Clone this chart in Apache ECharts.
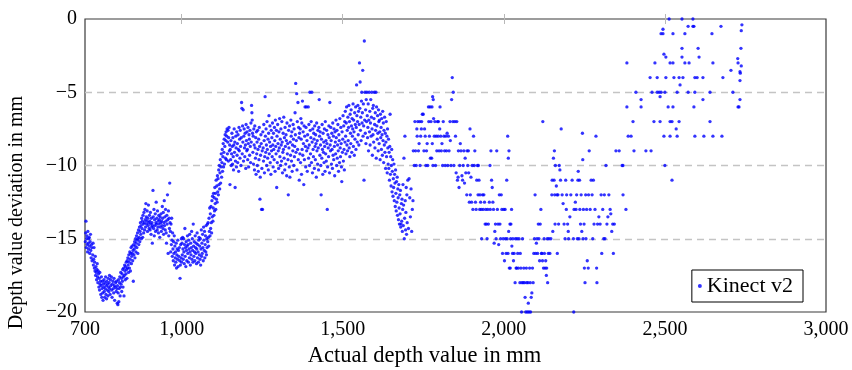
<!DOCTYPE html>
<html>
<head>
<meta charset="utf-8">
<script src="https://cdn.jsdelivr.net/npm/echarts@6/dist/echarts.min.js"></script>
<style>html,body{margin:0;padding:0;background:#fff}#c{width:852px;height:370px}</style>
</head>
<body>
<div id="c"></div>
<script>
const seriesName = 'Kinect v2';
const xTickValues = [700, 1000, 1500, 2000, 2500, 3000];
const yTickValues = [-20, -15, -10, -5, 0];
const xTitle = 'Actual depth value in mm';
const yTitle = 'Depth value deviation in mm';

const seg700 = [[701,-15.2],[702,-14.6],[703,-13.8],[704,-15.6],[705,-15.0],[706,-14.8],[707,-15.4],[708,-15.9],[709,-14.5],[710,-15.3],[711,-15.7],[712,-15.0],[713,-14.9],[714,-15.5],[715,-16.0],[716,-15.2],[717,-14.7],[718,-15.8],[719,-16.3],[720,-15.4],[721,-15.6],[722,-16.5],[724,-16.1],[725,-15.3],[726,-16.8],[727,-16.4],[728,-15.6],[729,-17.0],[730,-16.6],
[731,-17.2],[732,-16.2],[733,-17.5],[734,-16.9],[735,-17.3],[736,-17.8],[737,-17.1],[738,-16.7],[739,-17.6],[740,-18.0],[741,-17.2],[742,-17.4],[743,-18.3],[744,-17.7],[745,-18.5],[746,-17.3],[747,-18.1],[748,-17.9],[749,-18.8],[750,-18.2],[751,-17.6],[752,-19.0],[753,-18.4],[754,-17.9],[755,-18.7],[756,-19.2],[757,-18.1],[758,-18.3],[759,-17.8],[760,-18.6],
[761,-19.0],[762,-18.0],[763,-18.4],[764,-17.6],[765,-18.8],[766,-18.2],[767,-19.1],[768,-17.9],[769,-18.5],[770,-18.1],[771,-18.9],[772,-17.7],[773,-18.3],[774,-18.6],[775,-18.0],[776,-17.5],[777,-18.4],[778,-18.8],[779,-17.8],[780,-18.2],[782,-17.6],[783,-18.5],[784,-19.0],[785,-18.1],[787,-17.9],[788,-18.4],[789,-18.7],[790,-17.7],[791,-18.2],[792,-19.2],[794,-18.3],[795,-18.0],[797,-18.6],[798,-17.9],[799,-18.4],[800,-19.4],
[801,-18.2],[802,-19.5],[803,-18.7],[804,-17.8],[805,-19.3],[806,-18.4],[807,-18.0],[808,-17.6],[809,-18.9],[810,-18.3],[811,-17.3],[812,-18.1],[813,-17.7],[814,-18.6],[815,-17.4],[816,-17.9],[817,-17.1],[818,-18.3],[819,-17.6],[820,-17.0],[821,-18.9],[822,-17.5],[823,-16.8],[824,-17.2],[825,-17.8],[826,-16.9],[827,-17.4],[828,-16.6],[829,-17.1],[830,-17.7],
[831,-16.5],[832,-17.0],[833,-16.3],[834,-16.8],[835,-17.3],[836,-16.1],[837,-16.6],[838,-17.0],[839,-15.9],[840,-16.4],[841,-17.2],[842,-16.0],[843,-15.6],[844,-16.7],[845,-16.2],[846,-15.5],[847,-16.0],[848,-16.5],[849,-15.8],[850,-17.9],[851,-15.4],[852,-16.1],[853,-15.7],[854,-15.2],[855,-16.3],[856,-15.5],[857,-15.0],[858,-15.9],[859,-15.3],[860,-14.8],[861,-15.6],[862,-15.1],[863,-14.6],[864,-16.0],[865,-15.0],[866,-14.4],[867,-15.4],[868,-14.9],[869,-14.2],[870,-15.2],
[871,-14.5],[872,-13.9],[873,-14.7],[874,-14.1],[875,-15.0],[876,-13.6],[877,-14.3],[878,-13.8],[879,-14.9],[880,-13.4],[881,-14.0],[882,-14.6],[883,-13.2],[884,-13.9],[885,-14.4],[886,-13.0],[887,-13.7],[888,-14.2],[889,-12.6],[890,-13.5],[891,-14.0],[892,-13.8],[893,-13.1],[894,-14.5],[895,-13.6],[896,-14.1],[897,-12.7],[898,-13.9],[899,-14.3],[900,-13.4],
[901,-13.8],[902,-14.4],[903,-13.2],[904,-14.0],[905,-14.7],[906,-13.6],[907,-14.2],[908,-13.9],[909,-15.3],[910,-14.1],[911,-11.7],[912,-13.5],[913,-14.3],[914,-13.0],[915,-14.8],[916,-13.7],[917,-14.1],[918,-13.3],[919,-14.5],[920,-13.9],[921,-12.5],[922,-14.0],[923,-13.6],[924,-14.4],[925,-13.1],[926,-14.2],[927,-13.8],[928,-14.6],[929,-13.4],[930,-14.0],[931,-13.7],[932,-14.9],[933,-13.5],[934,-14.2],[935,-13.9],[936,-13.3],[937,-14.5],[938,-13.8],[939,-14.1],[940,-12.8],[941,-13.6],[942,-14.3],[943,-13.2],[944,-14.7],[945,-13.9],[946,-12.4],[947,-14.1],[948,-13.5],[949,-14.4],[950,-13.0],[951,-13.8],[952,-14.6],[953,-15.3],[954,-13.4],[955,-14.0],[956,-12.0],[957,-13.7],[958,-16.0],[959,-13.1],[960,-14.8],[961,-13.6],[962,-14.3],[963,-11.2],[964,-13.9],[965,-14.5],[966,-15.9],
[967,-14.0],[968,-15.4],[969,-13.6],[970,-15.1],[971,-16.2],[972,-14.6],[973,-15.7],[974,-16.5],[975,-15.2],[976,-16.0],[977,-14.8],[978,-16.8],[979,-15.5],[980,-16.3],[981,-15.9],[982,-16.6],[983,-15.3],[984,-17.0],[985,-16.1],[986,-15.7],[987,-16.4],[988,-15.1],[989,-16.9],[990,-15.8],[991,-16.2],[993,-15.6],[994,-16.5],[995,-17.7],[996,-16.8],[997,-15.4],[998,-16.3],[999,-15.0],[1000,-16.6]];

const seg1000 = [[1001,-15.3],[1002,-16.1],[1003,-14.9],[1004,-15.7],[1005,-16.4],[1006,-15.0],[1007,-15.9],[1008,-16.7],[1009,-15.4],[1010,-14.3],[1011,-16.2],[1012,-15.6],[1013,-16.9],[1014,-15.2],[1015,-15.8],[1016,-16.5],[1017,-15.5],[1018,-14.8],[1019,-16.0],[1020,-15.4],[1021,-16.6],[1022,-15.1],[1023,-15.7],[1024,-16.3],[1025,-14.7],[1026,-15.9],[1027,-16.8],[1028,-15.3],[1029,-16.1],[1030,-15.6],[1031,-14.5],[1032,-16.4],[1033,-15.0],[1034,-15.8],[1035,-16.6],[1036,-14.0],[1037,-15.5],[1038,-16.2],[1039,-15.2],[1040,-15.9],[1041,-16.5],[1042,-14.8],[1043,-15.6],[1044,-16.0],[1045,-15.3],[1046,-16.7],[1047,-15.7],[1048,-14.6],[1049,-16.3],[1050,-15.4],[1051,-15.9],[1052,-16.6],[1053,-15.1],[1054,-14.9],[1055,-16.1],[1056,-15.5],[1057,-16.4],[1058,-15.0],[1059,-16.8],[1060,-15.7],[1061,-14.4],[1062,-16.2],[1063,-15.3],[1064,-16.0],[1065,-14.7],[1066,-15.6],[1067,-16.5],[1068,-14.2],[1069,-15.1],[1070,-15.8],[1071,-14.5],[1072,-16.3],[1073,-15.4],[1074,-14.8],[1075,-15.9],[1076,-14.1],[1077,-16.1],[1078,-15.0],
[1079,-15.6],[1080,-14.0],[1081,-15.2],[1082,-13.9],[1083,-14.9],[1084,-15.5],[1085,-13.6],[1086,-14.5],[1087,-12.9],[1088,-14.8],[1089,-13.3],[1090,-14.3],[1091,-12.8],[1092,-13.9],[1093,-14.6],[1094,-12.4],[1095,-13.5],[1096,-12.1],[1097,-13.8],[1098,-12.9],[1099,-11.9],[1100,-13.4],[1101,-12.2],[1102,-13.1],[1103,-11.5],[1104,-12.6],[1105,-11.9],[1106,-13.0],[1107,-11.0],[1108,-12.3],[1109,-11.4],[1110,-12.5],[1111,-10.7],[1112,-11.8],[1113,-10.9],[1114,-12.0],[1115,-10.3],[1116,-11.3],[1117,-10.0],[1118,-11.6],[1119,-10.5],[1120,-9.6],[1121,-11.2],[1122,-10.1],[1123,-9.2],[1124,-10.8],[1125,-9.8],[1126,-8.9],[1127,-10.4],[1128,-9.4],[1129,-8.5],[1130,-10.1],[1131,-9.1],[1132,-8.2],[1133,-9.9],[1134,-8.7],[1135,-7.9],[1136,-9.5],[1137,-8.3],[1138,-7.7],[1139,-9.6],[1140,-8.0],[1141,-7.5],[1142,-9.2],[1143,-8.4],[1144,-7.6],[1145,-9.7],[1146,-8.1],[1147,-7.4],[1148,-9.0],[1149,-8.6],[1150,-11.3]];

const seg1150 = [[1151,-8.9],[1152,-9.6],[1153,-8.3],[1154,-10.0],[1155,-9.2],[1156,-7.8],[1157,-8.7],[1158,-9.9],[1159,-8.1],[1160,-9.4],[1161,-10.3],[1162,-8.6],[1163,-7.5],[1164,-9.1],[1165,-8.4],[1166,-11.5],[1167,-9.7],[1168,-8.0],[1169,-8.8],[1170,-10.1],[1171,-7.7],[1172,-9.3],[1173,-8.5],[1174,-9.8],[1175,-7.9],[1176,-8.9],[1177,-10.4],[1178,-7.4],[1179,-9.0],[1180,-8.2],[1181,-9.5],[1182,-7.6],[1183,-8.7],[1184,-10.0],[1185,-8.1],[1186,-5.7],[1187,-6.1],[1188,-9.2],[1189,-7.3],[1190,-8.4],[1191,-6.2],[1192,-9.7],[1193,-8.0],[1194,-7.5],[1195,-8.8],[1196,-9.4],[1197,-7.8],[1198,-8.6],[1199,-10.2],[1200,-7.2],[1201,-8.3],[1202,-9.0],[1203,-7.7],[1204,-8.9],[1205,-9.6],[1206,-7.4],[1207,-8.5],[1208,-10.1],[1209,-7.9],[1210,-8.2],[1211,-9.3],[1212,-7.6],[1213,-8.7],[1214,-9.8],[1215,-7.1],[1216,-8.4],[1217,-5.9],[1218,-6.4],[1219,-6.9],[1220,-7.8],[1221,-9.1],[1222,-8.0],[1223,-9.9],[1224,-7.5],[1225,-8.6],[1226,-10.3],[1227,-7.3],[1228,-8.8],[1229,-9.5],[1230,-8.1],[1231,-10.6],[1232,-7.7],[1233,-9.2],
[1234,-8.4],[1235,-10.0],[1236,-7.6],[1237,-8.9],[1238,-10.4],[1239,-8.2],[1240,-9.6],[1241,-7.4],[1242,-8.7],[1243,-12.3],[1244,-10.8],[1245,-9.3],[1246,-7.9],[1247,-8.5],[1248,-13.0],[1249,-10.2],[1250,-9.0],[1251,-13.0],[1252,-7.7],[1253,-8.8],[1254,-9.7],[1255,-7.2],[1256,-8.3],[1257,-10.5],[1258,-9.4],[1259,-5.3],[1260,-8.0],[1261,-9.1],[1262,-7.5],[1263,-8.6],[1264,-10.0],[1265,-7.0],[1266,-8.9],[1267,-9.5],[1268,-8.2],[1269,-10.3],[1270,-7.8],[1271,-6.6],[1272,-9.2],[1273,-8.4],[1274,-7.3],[1275,-9.8],[1276,-8.7],[1277,-10.6],[1278,-7.6],[1279,-9.0],[1280,-8.1],
[1281,-9.4],[1282,-7.1],[1283,-8.6],[1284,-10.1],[1285,-7.8],[1286,-8.9],[1287,-9.6],[1288,-7.4],[1289,-8.3],[1290,-10.4],[1291,-6.9],[1292,-8.7],[1293,-9.2],[1294,-7.6],[1295,-11.5],[1296,-8.0],[1297,-9.8],[1298,-7.2],[1299,-8.5],[1300,-9.0],[1301,-10.2],[1302,-7.7],[1303,-8.8],[1304,-6.8],[1305,-9.4],[1306,-8.2],[1307,-10.0],[1308,-7.5],[1309,-8.6],[1310,-9.7],[1311,-7.0],[1312,-8.4],[1313,-10.5],[1314,-9.1],[1315,-7.8],[1316,-8.9],[1317,-6.7],[1318,-9.5],[1319,-8.1],[1320,-10.3],[1321,-7.4],[1322,-8.7],[1323,-9.9],[1324,-7.9],[1325,-8.3],[1326,-10.7],[1327,-7.1],[1328,-9.2],[1329,-8.5],[1330,-9.6],[1331,-12.0],[1332,-7.6],[1333,-8.8],[1334,-10.1],[1335,-7.3],[1336,-10.8],[1337,-8.4],[1338,-9.3],[1339,-6.9],[1340,-8.0],[1341,-9.7],[1342,-7.7],[1343,-10.4],[1344,-8.6],[1345,-9.0],[1346,-7.2],[1347,-8.2],[1348,-10.0],[1349,-7.5],[1350,-9.4],[1351,-8.7],[1352,-6.4],[1353,-7.9],[1354,-4.4],[1355,-9.1],[1356,-8.3],[1357,-5.1],[1358,-10.3],[1359,-7.0],[1360,-8.9],[1361,-5.7],[1362,-9.6],[1363,-7.4],[1364,-8.1],[1365,-11.0],[1366,-7.8],[1367,-9.2]];

const seg1370 = [[1368,-7.5],[1369,-9.8],[1370,-6.8],[1371,-8.2],[1372,-10.6],[1373,-7.1],[1374,-8.9],[1375,-5.6],[1376,-9.3],[1377,-7.7],[1378,-8.5],[1379,-11.3],[1380,-7.3],[1381,-9.6],[1382,-8.0],[1383,-6.0],[1384,-8.7],[1385,-10.1],[1386,-7.4],[1387,-6.0],[1388,-9.0],[1389,-8.3],[1390,-10.4],[1391,-7.9],[1392,-8.8],[1393,-6.0],[1394,-9.5],[1395,-7.2],[1396,-8.6],[1397,-10.0],[1398,-5.0],[1399,-7.6],[1400,-9.2],[1401,-8.1],[1402,-7.0],[1403,-9.8],[1404,-5.0],[1405,-8.4],[1406,-10.5],[1407,-7.5],[1408,-8.9],[1409,-9.4],[1410,-7.8],[1411,-8.2],[1412,-10.2],[1413,-7.3],[1414,-8.7],[1415,-9.6],[1416,-7.9],[1417,-8.5],[1418,-10.8],[1419,-7.1],[1420,-9.0],[1421,-8.3],[1422,-9.9],[1423,-7.6],[1424,-8.8],[1425,-10.3],[1426,-7.4],[1427,-5.5],[1428,-8.0],[1429,-9.3],[1430,-7.7],[1431,-8.6],[1432,-10.0],[1433,-12.0],[1434,-8.2],[1435,-9.5],[1436,-7.2],[1437,-8.9],[1438,-10.6],[1439,-7.8],[1440,-9.1],[1441,-8.4],[1442,-9.8],[1443,-7.5],[1444,-8.7],[1445,-10.4],[1446,-7.0],[1447,-9.2],[1448,-8.3],[1449,-9.7],[1450,-7.6],[1451,-8.5],[1452,-13.0],[1453,-10.1],[1454,-7.9],[1455,-8.8],[1456,-9.4],[1457,-7.3],[1458,-8.1],[1459,-10.5],[1460,-5.7],[1461,-8.6],[1462,-9.0],[1463,-7.4],[1464,-8.3],[1465,-9.9],[1466,-7.8],[1467,-8.9],[1468,-10.2],[1469,-7.1],[1470,-9.3],[1471,-8.0],[1472,-9.6],[1473,-7.5],[1474,-8.7],[1475,-10.7],[1476,-7.7],[1477,-8.4],[1478,-9.2],[1479,-6.9],[1480,-8.1],[1481,-10.0],[1482,-7.6],[1483,-9.5],[1484,-8.6],[1485,-7.2],[1486,-9.0],[1487,-10.4],[1488,-7.9],[1489,-8.3],[1490,-9.8],[1491,-6.8],[1492,-8.8],[1493,-9.4],[1494,-7.4],[1495,-8.5],[1496,-10.1],[1497,-11.1],[1498,-7.7],[1499,-9.1],[1500,-8.2],[1501,-6.6],[1502,-9.7],[1503,-7.3],[1504,-8.9],[1505,-10.3],[1506,-7.0],[1507,-8.4],
[1508,-6.3],[1509,-8.0],[1510,-9.2],[1511,-7.1],[1512,-6.0],[1513,-8.6],[1514,-7.6],[1515,-9.0],[1516,-6.7],[1517,-8.3],[1518,-7.4],[1519,-5.9],[1520,-8.8],[1521,-7.0],[1522,-9.4],[1523,-6.5],[1524,-7.8],[1525,-8.5],[1526,-6.2],[1527,-7.3],[1528,-9.1],[1529,-6.8],[1530,-8.0],[1531,-7.5],[1532,-5.8],[1533,-8.7],[1534,-6.9],[1535,-7.7],[1536,-9.3],[1537,-6.4],[1538,-8.2],[1539,-7.2],[1540,-6.0],[1541,-8.9],[1542,-7.4],[1543,-4.5],[1544,-6.6],[1545,-8.4],[1546,-7.0],[1547,-5.9],[1548,-7.9],[1549,-6.3],[1550,-8.6],[1551,-7.2],[1552,-3.0],[1553,-6.1],[1554,-4.3],[1555,-7.6],[1556,-6.7],[1557,-8.3],[1558,-5.6],[1559,-5.0],[1560,-7.1],[1561,-6.4],[1562,-3.5],[1563,-8.0],[1564,-5.8],[1565,-7.3],[1566,-11.0],[1567,-1.5],[1568,-6.9],[1569,-5.0],[1570,-7.8],[1571,-6.2],[1572,-8.5],[1573,-5.5],[1574,-7.0],
[1575,-5.0],[1576,-6.6],[1577,-8.1],[1578,-7.4],[1579,-5.8],[1580,-9.0],[1581,-6.9],[1582,-5.0],[1583,-7.7],[1584,-6.3],[1585,-8.6],[1586,-7.1],[1587,-5.5],[1588,-8.0],[1589,-6.7],[1590,-5.0],[1591,-7.5],[1592,-9.3],[1593,-6.1],[1594,-7.9],[1595,-5.9],[1596,-8.4],[1597,-6.8],[1598,-5.0],[1599,-7.2],[1600,-8.8],[1601,-6.4],[1602,-7.6],[1603,-5.0],[1604,-9.5],[1605,-6.0],[1606,-7.3],[1607,-8.2],[1608,-6.6],[1609,-7.8],[1610,-9.0],[1611,-6.2],[1612,-7.0],[1613,-8.5],[1614,-6.9],[1615,-7.7],[1616,-9.6],[1617,-6.5],[1618,-8.1],[1619,-7.4],[1620,-8.9],[1621,-6.8],[1622,-7.9],[1623,-9.3],[1624,-6.3],[1625,-8.3],[1626,-7.1],[1627,-9.8],[1628,-7.6],[1629,-8.6],[1630,-6.7],[1631,-9.1],[1632,-7.8],[1633,-10.2],[1634,-8.4],[1635,-7.0],[1636,-9.4],[1637,-8.0],[1638,-10.5],[1639,-7.5],[1640,-8.8],[1641,-9.9],[1642,-8.2],
[1643,-10.2],[1644,-9.1],[1645,-11.0],[1646,-8.7],[1647,-6.5],[1648,-10.6],[1649,-9.4],[1650,-11.4],[1651,-10.0],[1652,-8.9],[1653,-11.8],[1654,-10.4],[1655,-9.6],[1656,-12.1],[1657,-10.9],[1658,-11.5],[1659,-9.9],[1660,-12.4],[1661,-10.6],[1662,-11.2],[1663,-12.8],[1664,-10.3],[1665,-11.9],[1666,-13.1],[1667,-11.1],[1668,-12.5],[1669,-10.8],[1670,-13.4],[1671,-11.6],[1672,-12.2],[1673,-13.7],[1674,-11.3],[1675,-12.9],[1676,-14.0],[1677,-12.0],[1678,-13.3],[1679,-11.7],[1680,-14.2],[1681,-14.0],[1682,-12.6],[1683,-13.8],[1684,-12.3],[1685,-14.5],[1686,-13.0],[1687,-11.3],[1688,-14.1],[1689,-12.7],[1690,-9.5],[1691,-15.0],[1692,-13.6],[1693,-8.0],[1694,-12.4],[1695,-14.4],[1696,-13.2],[1697,-11.5],[1698,-14.7],[1699,-12.0],[1700,-13.9],[1702,-11.0],[1704,-14.3],[1706,-10.9],[1708,-12.2],[1710,-13.5],[1712,-11.6],[1714,-14.5],[1716,-13.0],[1718,-12.4]];

const seg1720 = [[1719,-9.0],[1722,-10.0],[1724,-7.0],[1726,-9.0],[1728,-10.0],[1730,-7.5],[1731,-8.0],[1733,-7.0],[1735,-9.0],[1737,-8.5],[1739,-7.0],[1740,-10.0],[1742,-8.0],[1744,-7.5],[1745,-7.0],[1747,-6.5],[1750,-6.5],[1752,-9.0],[1754,-7.5],[1756,-8.0],[1758,-10.0],[1760,-9.0],[1762,-8.5],[1764,-10.0],[1766,-6.0],[1767,-7.0],[1769,-8.0],[1771,-6.0],[1772,-9.5],[1774,-7.0],[1776,-9.5],[1777,-6.0],[1778,-8.5],[1779,-5.3],[1780,-10.0],[1781,-5.5],[1782,-6.8],[1784,-8.0],[1786,-7.0],[1788,-10.0],[1790,-8.0],[1792,-9.0],[1794,-7.0],[1796,-8.0],[1797,-7.0],[1799,-9.0],[1801,-7.5],[1802,-6.0],[1804,-8.0],[1806,-9.0],[1808,-8.5],[1810,-10.0],[1812,-7.0],[1814,-8.0],[1816,-9.0],[1818,-10.0],[1820,-8.0],[1822,-9.0],[1824,-7.8],[1826,-10.0],[1828,-8.0],[1830,-9.0],[1833,-7.0],[1834,-8.3],[1836,-10.0],[1838,-5.5],[1840,-4.0],[1842,-7.0],[1843,-5.0],[1845,-10.0],[1848,-7.0],[1850,-8.0],[1852,-10.5],[1854,-7.0],[1856,-11.0],[1858,-10.8],[1859,-9.0],[1861,-11.5],[1863,-10.0],[1865,-8.5],[1867,-9.0],[1870,-10.7],[1872,-11.0],[1874,-10.0],[1876,-9.0],[1878,-11.2],[1880,-9.5],[1882,-10.5],[1885,-12.0],[1886,-9.0],[1888,-10.0],[1890,-9.0],[1891,-10.5],[1893,-12.5],[1895,-7.5],[1896,-12.0],[1898,-10.8],[1900,-12.5],[1902,-10.0],[1904,-13.0],[1906,-8.0],[1908,-10.0],[1910,-9.0],[1912,-12.5],[1914,-13.0],[1916,-11.0],[1918,-10.0],[1920,-12.0],[1921,-10.0],[1923,-11.0],[1925,-13.0],[1926,-12.0],[1928,-12.5],[1930,-13.0],[1931,-15.0],[1934,-12.0],[1936,-13.0],[1938,-12.0],[1940,-12.5],[1942,-14.0],[1944,-13.0],[1946,-14.0],[1948,-15.0],[1950,-13.0],[1952,-14.0],[1955,-12.5],[1957,-10.0],[1958,-13.0],[1960,-9.0],[1962,-11.0],[1964,-11.5],[1966,-12.5],[1968,-13.0],[1970,-15.3],[1972,-14.5],[1974,-14.0],[1976,-15.0],[1978,-9.0],[1980,-13.0],[1982,-14.0],[1984,-15.4],[1986,-12.0],[1988,-14.0],[1990,-15.0],[1992,-12.0],[1994,-13.0],[1996,-16.0],[1998,-15.0],[2000,-13.0]];

const seg2000 = [[2002,-16.5],[2004,-13.0],[2005,-15.0],[2007,-16.0],[2009,-11.0],[2010,-15.0],[2012,-8.0],[2013,-16.0],[2014,-9.5],[2015,-14.5],[2016,-9.0],[2017,-17.0],[2019,-14.0],[2020,-17.0],[2021,-15.0],[2022,-14.0],[2024,-13.0],[2025,-15.5],[2027,-16.0],[2028,-15.0],[2030,-16.5],[2032,-16.0],[2035,-18.0],[2036,-15.0],[2038,-17.0],[2040,-17.0],[2041,-15.0],[2043,-16.0],[2045,-17.0],[2047,-15.0],[2050,-18.0],[2051,-16.0],[2053,-17.0],[2055,-20.0],[2056,-18.0],[2058,-15.0],[2060,-18.0],[2062,-17.0],[2064,-18.0],[2066,-19.0],[2068,-20.0],[2070,-17.0],[2071,-18.0],[2073,-20.0],[2075,-18.0],[2076,-19.4],[2078,-20.0],[2080,-17.0],[2082,-18.0],[2083,-20.0],[2085,-19.0],[2087,-18.7],[2089,-17.0],[2091,-18.0],[2093,-16.0],[2095,-15.0],[2097,-12.0],[2099,-16.0],[2101,-15.3],[2103,-15.0],[2105,-16.0],[2107,-14.0],[2109,-15.0],[2111,-16.5],[2113,-14.0],[2115,-13.0],[2117,-16.0],[2118,-16.0],[2120,-16.5],[2121,-7.0],[2123,-17.0],[2125,-15.0],[2126,-16.0],[2128,-17.0],[2130,-16.5],[2132,-17.5],[2133,-17.0],[2135,-15.0],[2136,-18.0],[2138,-16.0],[2140,-15.0],[2143,-16.0],[2146,-15.0],[2149,-12.0],[2150,-11.0],[2152,-14.5],[2154,-9.5],[2156,-11.0],[2157,-9.0],[2158,-12.0],[2159,-14.0],[2160,-10.0],[2163,-11.4],[2165,-12.0],[2166,-16.0],[2168,-12.0],[2170,-14.0],[2172,-10.0],[2174,-10.3],[2176,-11.0],[2178,-7.5],[2181,-12.0],[2184,-12.6],[2187,-14.0],[2190,-15.0],[2192,-11.0],[2194,-13.0],[2195,-12.0],[2198,-14.0],[2200,-14.5],[2201,-15.0],[2205,-13.5],[2208,-12.0],[2212,-11.0],[2216,-15.0],[2217,-20.0],[2218,-13.0],[2222,-12.5],[2224,-13.0],[2226,-12.0],[2228,-15.0],[2230,-11.0],[2231,-10.4],[2233,-15.0],[2235,-11.0],[2236,-13.0],[2238,-14.0],[2240,-12.0],[2242,-14.5],[2244,-7.8],[2245,-9.6],[2246,-15.0],[2247,-13.0],[2249,-14.0],[2250,-17.0],[2252,-18.0],[2254,-12.0],[2255,-15.0],[2257,-13.0],[2259,-16.5],[2262,-17.0],[2263,-12.0],[2265,-9.0],[2268,-13.0],[2271,-11.0],[2274,-12.0],[2276,-15.0],[2278,-11.0],[2280,-14.0],[2283,-13.0],[2286,-8.0],[2288,-17.0],[2289,-18.0],[2291,-14.0],[2295,-13.5],[2299,-14.0],[2302,-12.0],[2304,-16.0],[2307,-13.0],[2310,-15.0],[2312,-12.0],[2314,-15.0],[2317,-10.0],[2320,-14.0],[2323,-13.5],[2326,-12.0],[2330,-13.0],[2332,-13.3],[2335,-14.5],[2338,-14.0],[2340,-16.0],[2343,-14.0]];

const seg2350 = [[2348,-9.0],[2358,-9.0],[2367,-10.0],[2370,-10.0],[2370,-12.0],[2379,-13.0],[2382,-3.0],[2382,-6.0],[2386,-8.0],[2395,-8.0],[2401,-7.0],[2404,-9.0],[2410,-5.0],[2426,-5.5],[2426,-6.0],[2441,-9.0],[2454,-4.0],[2457,-9.0],[2460,-5.0],[2466,-7.0],[2469,-3.0],[2476,-4.0],[2476,-5.0],[2482,-5.0],[2485,-5.3],[2485,-7.0],[2488,-1.0],[2488,-5.0],[2494,-0.7],[2494,-1.0],[2497,-2.4],[2497,-8.0],[2500,-5.0],[2500,-10.0],[2503,-2.6],[2503,-4.0],[2510,-6.0],[2513,0.0],[2516,-3.0],[2516,-7.0],[2516,-8.0],[2522,-7.0],[2522,-11.0],[2525,-1.0],[2525,-3.0],[2525,-6.0],[2528,-4.0],[2535,-7.5],[2538,-5.0],[2538,-8.0],[2544,-4.0],[2544,-7.0],[2547,-4.5],[2553,0.0],[2553,-2.0],[2553,-2.6],[2556,-4.0],[2562,-1.0],[2562,-3.0],[2572,-0.5],[2572,-5.0],[2575,-3.0],[2587,0.0],[2587,-0.5],[2590,-0.5],[2590,-6.0],[2593,-4.0],[2593,-5.0],[2593,-8.0],[2600,-4.0],[2603,-2.0],[2606,-2.6],[2618,-4.0],[2618,-5.5],[2621,-8.0],[2640,-5.0],[2640,-7.0],[2646,-1.0],[2649,-3.0],[2649,-8.0],[2674,-0.5],[2677,-8.0],[2680,-4.0],[2705,-3.5],[2711,-5.0],[2726,-2.7],[2727,-3.0],[2727,-6.0],[2730,-6.0],[2733,-3.6],[2733,-4.2],[2733,-5.5],[2734,-3.7],[2736,-2.0],[2737,-3.2],[2737,-0.8],[2739,-0.4]];

const data = [].concat(seg700, seg1000, seg1150, seg1370, seg1720, seg2000, seg2350);

const FONT = '"Liberation Serif", "DejaVu Serif", serif';
const fmtX = v => Number(v).toLocaleString('en-US');
const fmtY = v => (v < 0 ? '\u2212' + Math.abs(v) : String(v));
const innerX = xTickValues.slice(1, -1);

const chart = echarts.init(document.getElementById('c'), null, {renderer: 'canvas'});
chart.setOption({
  animation: false,
  backgroundColor: '#fff',
  grid: {left: 85, right: 26, top: 19, bottom: 58, outerBoundsMode: 'none', show: true, borderColor: '#3a3a3a', borderWidth: 1.2, backgroundColor: 'transparent'},
  xAxis: [{
    type: 'value', min: xTickValues[0], max: xTickValues[xTickValues.length - 1], position: 'bottom',
    axisLine: {show: false},
    axisTick: {show: true, inside: true, length: 5, customValues: innerX, lineStyle: {color: '#b8b8b8', width: 1}},
    axisLabel: {customValues: xTickValues, formatter: fmtX, margin: 8, color: '#000', fontSize: 20, fontFamily: FONT},
    splitLine: {show: false},
    name: xTitle, nameLocation: 'middle', nameGap: 32,
    nameTextStyle: {fontSize: 22.5, fontFamily: FONT, color: '#000', padding: [0, 62, 0, 0]}
  }, {
    type: 'value', min: xTickValues[0], max: xTickValues[xTickValues.length - 1], position: 'top',
    axisLine: {show: false},
    axisTick: {show: true, inside: true, length: 5, customValues: innerX, lineStyle: {color: '#b8b8b8', width: 1}},
    axisLabel: {show: false},
    splitLine: {show: false}
  }],
  yAxis: {
    type: 'value', min: yTickValues[0], max: yTickValues[yTickValues.length - 1], interval: 5,
    axisLine: {show: false}, axisTick: {show: false},
    axisLabel: {formatter: fmtY, margin: 8, color: '#000', fontSize: 20, fontFamily: FONT},
    splitLine: {show: true, showMinLine: false, showMaxLine: false, lineStyle: {color: '#c4c4c4', width: 1.3, type: [7, 5]}},
    name: yTitle, nameLocation: 'middle', nameGap: 58, nameRotate: 90,
    nameTextStyle: {fontSize: 20, fontFamily: FONT, color: '#000', padding: [0, 94, 0, 0]}
  },
  legend: {
    data: [seriesName], right: 49, top: 270, orient: 'horizontal',
    backgroundColor: '#fff', borderColor: '#000', borderWidth: 1, borderRadius: 0,
    padding: [5, 10, 5, 6], itemWidth: 4, itemHeight: 4, itemGap: 0, icon: 'circle',
    textStyle: {fontSize: 22, fontFamily: FONT, color: '#000', padding: [0, 0, 0, 0]}
  },
  series: [{
    name: seriesName, type: 'scatter', xAxisIndex: 0, data: data,
    symbol: 'circle', symbolSize: 3.3, itemStyle: {color: '#0000ff'}, silent: true
  }]
});
</script>
</body>
</html>
